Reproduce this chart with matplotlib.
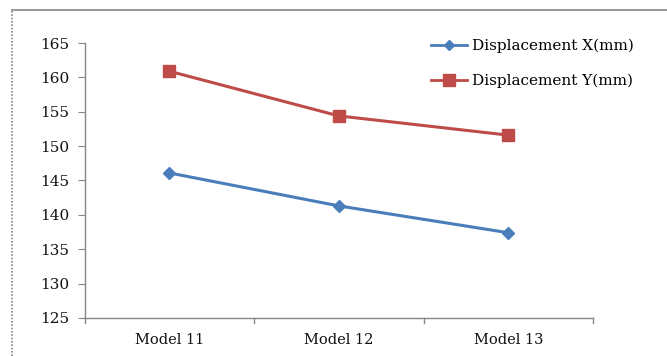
import matplotlib.pyplot as plt
from matplotlib.lines import Line2D

# data
models = ['Model 11', 'Model 12', 'Model 13']
disp_x = [146.1, 141.3, 137.4]
disp_y = [160.9, 154.4, 151.6]
yticks = [125, 130, 135, 140, 145, 150, 155, 160, 165]

blue = '#4a7ebb'
red = '#be4b48'
grey = '#868686'

plt.rcParams['font.family'] = ['DejaVu Serif']

fig = plt.figure(figsize=(6.67, 3.56), dpi=100)
ax = fig.add_axes([0.127, 0.107, 0.762, 0.772])

pos = list(range(len(models)))
ax.plot(pos, disp_x, color=blue, lw=2.2, marker='D', ms=6.5,
        mfc=blue, mec=blue, label='Displacement X(mm)')
ax.plot(pos, disp_y, color=red, lw=2.2, marker='s', ms=9,
        mfc=red, mec=red, label='Displacement Y(mm)')

ax.set_xlim(-0.5, len(models) - 0.5)
ax.set_ylim(125, 165)
ax.set_yticks(yticks)
ax.set_xticks(pos)
ax.set_xticklabels(models, fontsize=10.5, color='#111111')
ax.tick_params(axis='x', length=0, pad=11)
ax.tick_params(axis='y', length=5, color=grey, labelsize=11, labelcolor='#111111', pad=6)
# boundary ticks between categories
for b in [-0.5, 0.5, 1.5, 2.5]:
    ax.plot([b, b], [0, -0.02], transform=ax.get_xaxis_transform(),
            color=grey, lw=1, clip_on=False)

for s in ['top', 'right']:
    ax.spines[s].set_visible(False)
for s in ['left', 'bottom']:
    ax.spines[s].set_color(grey)
    ax.spines[s].set_linewidth(1)

handles = [Line2D([], [], color=blue, lw=2, marker='D', ms=5),
           Line2D([], [], color=red, lw=2, marker='s', ms=8)]
leg = fig.legend(handles, ['Displacement X(mm)', 'Displacement Y(mm)'],
                 loc='upper left', bbox_to_anchor=(0.625, 0.93), frameon=False,
                 fontsize=11, handlelength=2.4, handletextpad=0.3,
                 labelspacing=1.35)

# outer chart-area frame: solid top, dotted left
fig.add_artist(Line2D([0.018, 1.0], [0.972, 0.972], color=grey, lw=1.2))
fig.add_artist(Line2D([0.018, 0.018], [0.0, 0.972], color=grey, lw=1.2, ls=(0, (1, 1))))

fig.savefig('out.png', dpi=100)
